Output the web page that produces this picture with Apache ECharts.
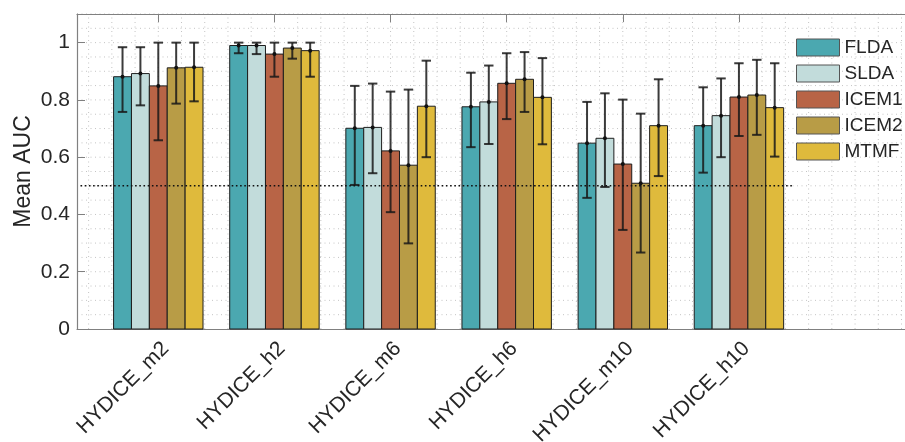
<!DOCTYPE html>
<html><head><meta charset="utf-8">
<script src="https://cdn.jsdelivr.net/npm/echarts@6/dist/echarts.min.js"></script>
<style>html,body{margin:0;padding:0;background:#fff}#c{width:905px;height:442px}</style>
</head><body><div id="c"></div>
<script>
// ---- data ----
const categories = ['HYDICE_m2','HYDICE_h2','HYDICE_m6','HYDICE_h6','HYDICE_m10','HYDICE_h10'];
const seriesNames = ['FLDA','SLDA','ICEM1','ICEM2','MTMF'];

const meanFLDA  = [0.881, 0.990, 0.701, 0.776, 0.649, 0.710];
const lowFLDA   = [0.758, 0.963, 0.503, 0.635, 0.458, 0.546];
const highFLDA  = [0.984, 1.000, 0.849, 0.895, 0.793, 0.844];

const meanSLDA  = [0.892, 0.990, 0.704, 0.793, 0.666, 0.745];
const lowSLDA   = [0.781, 0.960, 0.544, 0.646, 0.496, 0.600];
const highSLDA  = [0.984, 1.000, 0.857, 0.920, 0.823, 0.875];

const meanICEM1 = [0.849, 0.960, 0.622, 0.858, 0.576, 0.810];
const lowICEM1  = [0.659, 0.881, 0.408, 0.733, 0.346, 0.674];
const highICEM1 = [1.000, 1.000, 0.829, 0.963, 0.801, 0.928];

const meanICEM2 = [0.912, 0.981, 0.572, 0.872, 0.509, 0.817];
const lowICEM2  = [0.787, 0.944, 0.299, 0.758, 0.267, 0.678];
const highICEM2 = [1.000, 1.000, 0.836, 0.967, 0.752, 0.940];

const meanMTMF  = [0.914, 0.972, 0.778, 0.809, 0.710, 0.773];
const lowMTMF   = [0.795, 0.881, 0.600, 0.645, 0.534, 0.602];
const highMTMF  = [1.000, 1.000, 0.937, 0.946, 0.872, 0.928];

const yTickValues = [0, 0.2, 0.4, 0.6, 0.8, 1];
const xTickValues = [1, 2, 3, 4, 5, 6];
const chanceLevel = 0.5;
const chanceFrom = 0.33, chanceTo = 6.46;

// ---- styling / layout ----
const colors = ['#4BA8B0', '#C2DCDB', '#B86446', '#B89C46', '#DFBA3C'];
const FONT = "'Liberation Sans', Helvetica, Arial, sans-serif";
const xMin = 0.3, xMax = 7.43, yMin = 0, yMax = 1.1;
const barW = 0.154;
const AX = '#808080', TXT = '#262626';

const means = [meanFLDA, meanSLDA, meanICEM1, meanICEM2, meanMTMF];
const lows  = [lowFLDA, lowSLDA, lowICEM1, lowICEM2, lowMTMF];
const highs = [highFLDA, highSLDA, highICEM1, highICEM2, highMTMF];

// grid positions (minor grid of the reference: y every 0.05, x every 0.2)
const hGrid = []; for (let i = 1; i <= 22; i++) hGrid.push(+(i * 0.05).toFixed(2));
const vGrid = []; for (let i = 2; i <= 37; i++) vGrid.push(+(i * 0.2).toFixed(1));

function barRender(k) {
  return function (params, api) {
    const xc = api.value(0) + (k - 2) * barW;
    const m = api.value(1), lo = api.value(2), hi = api.value(3);
    const p0 = api.coord([xc - barW / 2, m]);
    const p1 = api.coord([xc + barW / 2, 0]);
    const pl = api.coord([xc, lo]);
    const ph = api.coord([xc, hi]);
    const pm = api.coord([xc, m]);
    const cap = 4.7;
    const ec = 'rgba(25,25,25,0.85)';
    return {
      type: 'group',
      children: [
        { type: 'rect', shape: { x: p0[0], y: p0[1], width: p1[0] - p0[0], height: p1[1] - p0[1] },
          style: { fill: colors[k], stroke: '#1e1e1e', lineWidth: 1 } },
        { type: 'line', shape: { x1: pl[0], y1: pl[1], x2: ph[0], y2: ph[1] }, style: { stroke: ec, lineWidth: 2 } },
        { type: 'line', shape: { x1: pl[0] - cap, y1: pl[1], x2: pl[0] + cap, y2: pl[1] }, style: { stroke: ec, lineWidth: 2 } },
        { type: 'line', shape: { x1: ph[0] - cap, y1: ph[1], x2: ph[0] + cap, y2: ph[1] }, style: { stroke: ec, lineWidth: 2 } },
        { type: 'circle', shape: { cx: pm[0], cy: pm[1], r: 2 }, style: { fill: '#111' } }
      ]
    };
  };
}

const series = [];
series.push({
  type: 'custom', name: 'hgrid', silent: true, z: 0,
  data: hGrid.map(v => [xMin, v]),
  renderItem: function (params, api) {
    const a = api.coord([xMin, api.value(1)]), b = api.coord([xMax, api.value(1)]);
    return { type: 'line', shape: { x1: a[0], y1: a[1], x2: b[0], y2: b[1] },
      style: { stroke: '#c4c4c4', lineWidth: 1, lineDash: [1, 3.5] } };
  }
});
series.push({
  type: 'custom', name: 'vgrid', silent: true, z: 0,
  data: vGrid.map(v => [v, 0]),
  renderItem: function (params, api) {
    const a = api.coord([api.value(0), yMin]), b = api.coord([api.value(0), yMax]);
    return { type: 'line', shape: { x1: a[0], y1: a[1], x2: b[0], y2: b[1] },
      style: { stroke: '#c4c4c4', lineWidth: 1, lineDash: [1, 3.5] } };
  }
});
seriesNames.forEach((name, k) => {
  series.push({
    type: 'custom', name: name, z: 2,
    itemStyle: { color: colors[k] },
    data: categories.map((c, i) => [i + 1, means[k][i], lows[k][i], highs[k][i]]),
    renderItem: barRender(k)
  });
});
series.push({
  type: 'custom', name: 'chance', silent: true, z: 3,
  data: [[chanceFrom, chanceLevel, chanceTo]],
  renderItem: function (params, api) {
    const a = api.coord([api.value(0), api.value(1)]), b = api.coord([api.value(2), api.value(1)]);
    return { type: 'line', shape: { x1: a[0], y1: a[1], x2: b[0], y2: b[1] },
      style: { stroke: '#111', lineWidth: 1.6, lineDash: [1.6, 2.6] } };
  }
});

const chart = echarts.init(document.getElementById('c'), null, { renderer: 'canvas' });
chart.setOption({
  animation: false,
  textStyle: { fontFamily: FONT },
  grid: { left: 77, right: 0, top: 14, bottom: 113, containLabel: false, outerBoundsMode: 'none' },
  legend: {
    orient: 'vertical', left: 796, top: 38, padding: 0,
    itemWidth: 43, itemHeight: 17, itemGap: 7, icon: 'rect',
    textStyle: { fontSize: 19, color: TXT, fontFamily: FONT },
    itemStyle: { borderColor: '#555', borderWidth: 1 },
    data: seriesNames
  },
  xAxis: [
    {
      type: 'value', min: xMin, max: xMax, position: 'bottom',
      axisLine: { show: true, onZero: false, lineStyle: { color: AX, width: 1.2 } },
      axisTick: { show: true, inside: true, length: 8, customValues: xTickValues, lineStyle: { color: AX } },
      axisLabel: {
        customValues: xTickValues, rotate: 45, fontSize: 21, color: TXT, fontFamily: FONT, margin: 9,
        verticalAlign: 'top',
        formatter: v => categories[Math.round(v) - 1] || ''
      },
      splitLine: { show: false }
    },
    {
      type: 'value', min: xMin, max: xMax, position: 'top',
      axisLine: { show: true, onZero: false, lineStyle: { color: AX, width: 1.2 } },
      axisTick: { show: true, inside: true, length: 8, customValues: xTickValues, lineStyle: { color: AX } },
      axisLabel: { show: false },
      splitLine: { show: false }
    }
  ],
  yAxis: {
    type: 'value', min: yMin, max: yMax,
    name: 'Mean AUC', nameLocation: 'middle', nameGap: 42, nameMoveOverlap: false,
    nameTextStyle: { fontSize: 23, color: TXT, fontFamily: FONT },
    axisLine: { show: true, onZero: false, lineStyle: { color: AX, width: 1.2 } },
    axisTick: { show: true, inside: true, length: 8, customValues: yTickValues, lineStyle: { color: AX } },
    axisLabel: { customValues: yTickValues, fontSize: 21, color: TXT, fontFamily: FONT, margin: 7 },
    splitLine: { show: false }
  },
  series: series
});
</script>
</body></html>
